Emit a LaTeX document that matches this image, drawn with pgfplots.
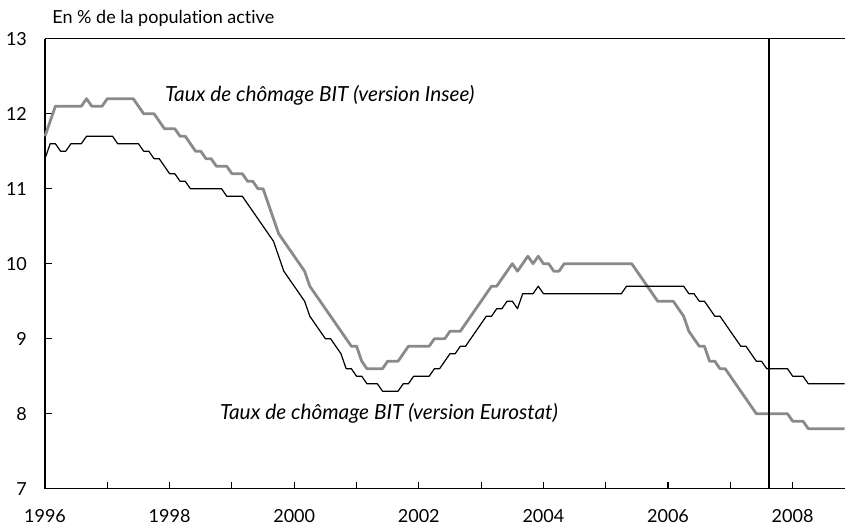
\documentclass[border=0pt]{standalone}
\usepackage{pgfplots}
\pgfplotsset{compat=1.18}
\usepackage{pgfplotstable}
\usepackage{fontspec}
\setmainfont{Lato}[Ligatures=NoCommon]
\definecolor{insee}{RGB}{138,138,138}
\newcommand\f{\fontsize{9}{11}\selectfont}
\newcommand\fl{\fontsize{10.4}{12}\selectfont}
\pgfplotstableread{
m insee euro
0 11.7 11.4
1 11.9 11.6
2 12.1 11.6
3 12.1 11.5
4 12.1 11.5
5 12.1 11.6
6 12.1 11.6
7 12.1 11.6
8 12.2 11.7
9 12.1 11.7
10 12.1 11.7
11 12.1 11.7
12 12.2 11.7
13 12.2 11.7
14 12.2 11.6
15 12.2 11.6
16 12.2 11.6
17 12.2 11.6
18 12.1 11.6
19 12.0 11.5
20 12.0 11.5
21 12.0 11.4
22 11.9 11.4
23 11.8 11.3
24 11.8 11.2
25 11.8 11.2
26 11.7 11.1
27 11.7 11.1
28 11.6 11.0
29 11.5 11.0
30 11.5 11.0
31 11.4 11.0
32 11.4 11.0
33 11.3 11.0
34 11.3 11.0
35 11.3 10.9
36 11.2 10.9
37 11.2 10.9
38 11.2 10.9
39 11.1 10.8
40 11.1 10.7
41 11.0 10.6
42 11.0 10.5
43 10.8 10.4
44 10.6 10.3
45 10.4 10.1
46 10.3 9.9
47 10.2 9.8
48 10.1 9.7
49 10.0 9.6
50 9.9 9.5
51 9.7 9.3
52 9.6 9.2
53 9.5 9.1
54 9.4 9.0
55 9.3 9.0
56 9.2 8.9
57 9.1 8.8
58 9.0 8.6
59 8.9 8.6
60 8.9 8.5
61 8.7 8.5
62 8.6 8.4
63 8.6 8.4
64 8.6 8.4
65 8.6 8.3
66 8.7 8.3
67 8.7 8.3
68 8.7 8.3
69 8.8 8.4
70 8.9 8.4
71 8.9 8.5
72 8.9 8.5
73 8.9 8.5
74 8.9 8.5
75 9.0 8.6
76 9.0 8.6
77 9.0 8.7
78 9.1 8.8
79 9.1 8.8
80 9.1 8.9
81 9.2 8.9
82 9.3 9.0
83 9.4 9.1
84 9.5 9.2
85 9.6 9.3
86 9.7 9.3
87 9.7 9.4
88 9.8 9.4
89 9.9 9.5
90 10.0 9.5
91 9.9 9.4
92 10.0 9.6
93 10.1 9.6
94 10.0 9.6
95 10.1 9.7
96 10.0 9.6
97 10.0 9.6
98 9.9 9.6
99 9.9 9.6
100 10.0 9.6
101 10.0 9.6
102 10.0 9.6
103 10.0 9.6
104 10.0 9.6
105 10.0 9.6
106 10.0 9.6
107 10.0 9.6
108 10.0 9.6
109 10.0 9.6
110 10.0 9.6
111 10.0 9.6
112 10.0 9.7
113 10.0 9.7
114 9.9 9.7
115 9.8 9.7
116 9.7 9.7
117 9.6 9.7
118 9.5 9.7
119 9.5 9.7
120 9.5 9.7
121 9.5 9.7
122 9.4 9.7
123 9.3 9.7
124 9.1 9.6
125 9.0 9.6
126 8.9 9.5
127 8.9 9.5
128 8.7 9.4
129 8.7 9.3
130 8.6 9.3
131 8.6 9.2
132 8.5 9.1
133 8.4 9.0
134 8.3 8.9
135 8.2 8.9
136 8.1 8.8
137 8.0 8.7
138 8.0 8.7
139 8.0 8.6
140 8.0 8.6
141 8.0 8.6
142 8.0 8.6
143 8.0 8.6
144 7.9 8.5
145 7.9 8.5
146 7.9 8.5
147 7.8 8.4
148 7.8 8.4
149 7.8 8.4
150 7.8 8.4
151 7.8 8.4
152 7.8 8.4
153 7.8 8.4
154 7.8 8.4
}\data
\begin{document}
\begin{tikzpicture}[font=\f]
\begin{axis}[
  at={(0,0)}, anchor=south west,
  scale only axis, width=400pt, height=225pt,
  xmin=1996, xmax=2008.84, ymin=7, ymax=13,
  axis x line=bottom, axis y line=left,
  axis line style={-, line width=0.7pt},
  xtick={1996,...,2008},
  xticklabels={1996,,1998,,2000,,2002,,2004,,2006,,2008},
  ytick={7,...,13},
  tick align=inside, major tick length=3.3pt,
  tick style={black, line width=0.6pt},
  /pgf/number format/assume math mode=true,
  x tick label style={yshift=-7pt},
  y tick label style={xshift=-5.5pt},
  clip=false,
]
\draw[line width=0.7pt] (rel axis cs:0,1) -- (rel axis cs:1,1);
\addplot[insee, line width=1.4pt, line join=round] table[x expr=1996+\thisrow{m}/12, y=insee] {\data};
\addplot[black, line width=0.6pt, line join=round] table[x expr=1996+\thisrow{m}/12, y=euro] {\data};
\addplot[black, line width=1pt] coordinates {(2007.625,7) (2007.625,13)};
\node[anchor=base west, inner sep=0pt] at (rel axis cs:0,1) [xshift=3.5pt, yshift=7.35pt] {En \% de la population active};
\node[anchor=base, inner sep=0pt, font=\fl\itshape] at (axis cs:2000.41,12.156) {Taux de chômage BIT (version Insee)};
\node[anchor=base, inner sep=0pt, font=\fl\itshape] at (axis cs:2001.52,7.916) {Taux de chômage BIT (version Eurostat)};
\end{axis}
\pgfresetboundingbox
\path (-22.5pt,-17.65pt) rectangle (400pt,244.35pt);
\end{tikzpicture}
\end{document}
